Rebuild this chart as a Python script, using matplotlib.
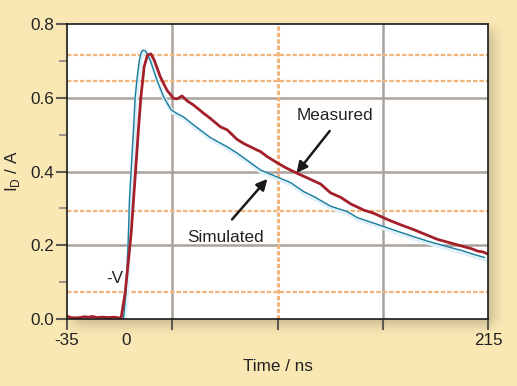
import numpy as np
import matplotlib
matplotlib.use('Agg')
import matplotlib.pyplot as plt
from matplotlib import transforms

plt.rcParams['font.family'] = ['Liberation Sans', 'DejaVu Sans']

# measured drain current (ns, A)
measured_t = [-35, -33, -30, -27, -25, -22, -20, -17, -14, -10, -7, -4, -2.9, -0.5, 1.5, 3.1, 4.5, 6.0,
              7.4, 8.9, 10.8, 12.8, 14.8, 16.8, 20.4, 24.3, 28.3, 30.5, 33.3, 36.2, 40.2, 46.1, 50.1, 56.1,
              60.1, 66.0, 69.9, 77.9, 79.9, 84, 90.4, 95, 101.7, 108, 115.6, 121.5, 127.5, 133.5, 141.4,
              147, 152.3, 157.3, 164, 171.1, 178, 185.0, 193, 200.9, 205, 208.9, 212, 215]
measured_i = [0.008, 0.004, 0.003, 0.004, 0.006, 0.005, 0.007, 0.004, 0.005, 0.004, 0.005, 0.003, 0.002,
              0.07, 0.16, 0.233, 0.323, 0.42, 0.513, 0.603, 0.684, 0.716, 0.719, 0.702, 0.657, 0.621,
              0.598, 0.597, 0.605, 0.592, 0.580, 0.558, 0.544, 0.521, 0.513, 0.487, 0.476, 0.458, 0.454,
              0.440, 0.422, 0.410, 0.395, 0.382, 0.366, 0.342, 0.330, 0.312, 0.295, 0.287, 0.276, 0.266,
              0.254, 0.242, 0.229, 0.216, 0.206, 0.196, 0.191, 0.184, 0.182, 0.176]

# simulated drain current (ns, A)
simulated_t = [-1.5, 0.0, 0.5, 1.5, 2.1, 3.3, 4.5, 5.5, 6.8, 8.0, 9.0, 10.0, 11.6, 13.0, 14.4, 16.4, 18.4,
               20.4, 22.3, 24.5, 26.9, 30, 34.2, 40.2, 50.1, 60.1, 66, 70, 79.9, 90.4, 97.7, 105.7, 111.6,
               121.5, 131.5, 137.4, 152.3, 157.3, 171.1, 180, 191, 200, 206, 212.8]
simulated_i = [0.0, 0.07, 0.115, 0.233, 0.323, 0.42, 0.513, 0.603, 0.66, 0.702, 0.722, 0.729, 0.727, 0.715,
               0.702, 0.675, 0.648, 0.625, 0.603, 0.585, 0.567, 0.558, 0.548, 0.526, 0.492, 0.467, 0.45,
               0.437, 0.404, 0.384, 0.37, 0.345, 0.332, 0.306, 0.291, 0.275, 0.252, 0.244, 0.223, 0.21,
               0.196, 0.185, 0.176, 0.167]

x_ticks = [-35, 0, 27.5, 90, 152.5, 215]
x_ticklabels = ['-35', '0', '', '', '', '215']
y_ticks = [0.0, 0.2, 0.4, 0.6, 0.8]
y_minor = [0.1, 0.3, 0.5, 0.7]
grid_x = [27.5, 152.5]
grid_y = [0.2, 0.4, 0.6]
marker_x = [90]
marker_y = [0.072, 0.293, 0.645, 0.717]

W, H = 517, 386
fig = plt.figure(figsize=(W / 100, H / 100), dpi=100)

# background with a soft drop shadow behind the plot box
bg = np.array([250, 232, 180]) / 255.0
x0, x1, y0, y1 = 67, 488, 24, 319
mask = np.zeros((H, W))
off = 6
mask[y0 + off:y1 + off, x0 + off:x1 + off] = 1.0
k = np.ones(13) / 13
for _ in range(2):
    mask = np.apply_along_axis(lambda r: np.convolve(r, k, mode='same'), 1, mask)
    mask = np.apply_along_axis(lambda c: np.convolve(c, k, mode='same'), 0, mask)
img = bg[None, None, :] * (1 - 0.2 * mask[:, :, None])
bgax = fig.add_axes([0, 0, 1, 1], zorder=-1)
bgax.imshow(img, aspect='auto', interpolation='bilinear')
bgax.axis('off')

ax = fig.add_axes([x0 / W, 1 - y1 / H, (x1 - x0) / W, (y1 - y0) / H])
ax.set_facecolor('white')

for gx in grid_x:
    ax.axvline(gx, color='#aaa29c', lw=1.8, zorder=1)
for gy in grid_y:
    ax.axhline(gy, color='#aaa29c', lw=1.8, zorder=1)
for mx in marker_x:
    ax.axvline(mx, color='#f2b47a', lw=2.2, ls=(0, (1.4, 0.7)), zorder=1.5)
for my in marker_y:
    ax.axhline(my, color='#f2b47a', lw=1.6, ls=(0, (2.0, 0.9)), zorder=1.5)

# faint glow below the simulated trace
glow = transforms.offset_copy(ax.transData, fig=fig, x=1, y=-2, units='dots')
ax.plot(simulated_t, simulated_i, color='#e0f0f9', lw=3, transform=glow, zorder=2)
ax.plot(simulated_t, simulated_i, color='#1a7d9e', lw=1.0, zorder=3)
ax.plot(measured_t, measured_i, color='#a3202a', lw=2.0, zorder=4)

ax.set_xlim(-35, 215)
ax.set_ylim(0, 0.8)
ax.set_xticks(x_ticks)
ax.set_xticklabels(x_ticklabels)
ax.xaxis.get_major_ticks()[1].tick1line.set_visible(False)
ax.set_yticks(y_ticks)
ax.set_yticklabels([f'{v:.1f}' for v in y_ticks])
ax.set_yticks(y_minor, minor=True)
ax.tick_params(axis='x', direction='out', length=8, width=1.5, color='#5e5953', labelsize=12.3,
               labelcolor='#222222', pad=2)
ax.tick_params(axis='y', which='major', direction='out', length=8, width=1.5, color='#5e5953',
               labelsize=12.3, labelcolor='#222222', pad=1)
ax.tick_params(axis='y', which='minor', direction='out', length=6, width=1.2, color='#8a847e')
for s in ax.spines.values():
    s.set_color('#1a1a1a')
    s.set_linewidth(1.2)
    s.set_zorder(5)

ax.set_xlabel('Time / ns', fontsize=12.3, color='#222222', labelpad=8)
ax.set_ylabel('I$_\\mathregular{D}$ / A', fontsize=12.3, color='#222222', va='center')
ax.yaxis.set_label_coords(-0.13, 0.5)

arrow = dict(arrowstyle='-|>', color='#1a1a1a', lw=1.8, mutation_scale=16, shrinkA=0, shrinkB=0)
ax.annotate('', xy=(101.3, 0.396), xytext=(121, 0.51), arrowprops=arrow, zorder=6)
ax.text(124, 0.552, 'Measured', fontsize=12.3, color='#222222', ha='center', va='center')
ax.annotate('', xy=(84, 0.38), xytext=(63, 0.27), arrowprops=arrow, zorder=6)
ax.text(59, 0.222, 'Simulated', fontsize=12.3, color='#222222', ha='center', va='center')
ax.text(-6.4, 0.11, '-V', fontsize=12.3, color='#222222', ha='center', va='center')

fig.savefig('out.png', dpi=100)
